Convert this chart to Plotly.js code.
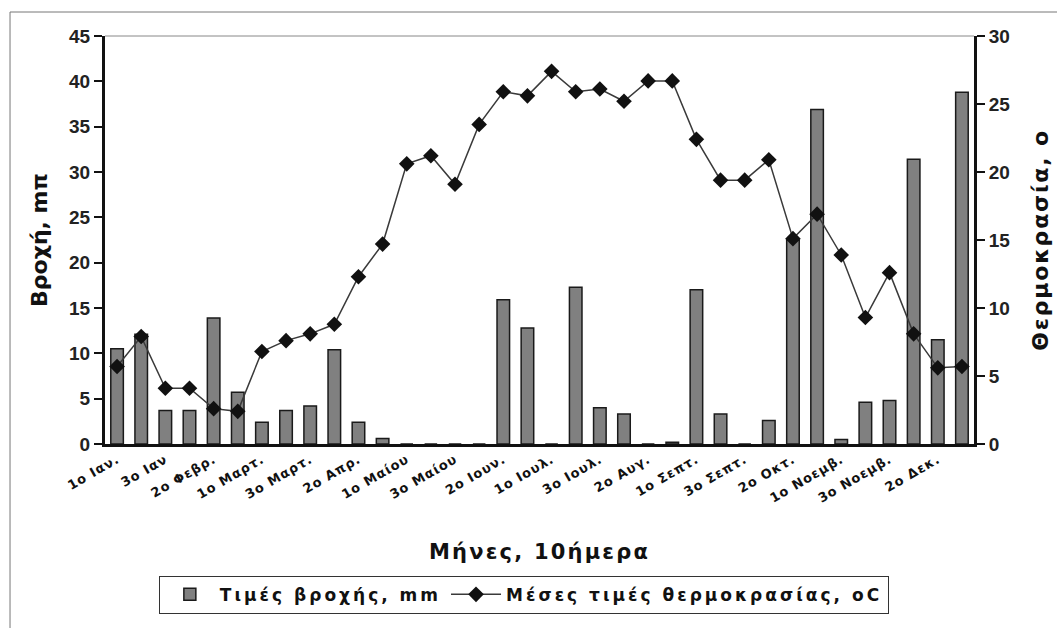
<!DOCTYPE html>
<html>
<head>
<meta charset="utf-8">
<script src="https://cdn.plot.ly/plotly-3.0.1.min.js"></script>
<style>
html,body{margin:0;padding:0;background:#fff;}
#chart{width:1057px;height:628px;}
.legendtext{letter-spacing:3px;}
.xtitle{letter-spacing:2.2px;}
.y2title{letter-spacing:1.8px;}
.xtick text{letter-spacing:1px;}
</style>
</head>
<body>
<div id="chart"></div>
<script>
// 36 ten-day periods (1ο, 2ο, 3ο 10ήμερο of each month)
const periods = [
  "1ο Ιαν.","2ο Ιαν.","3ο Ιαν","1ο Φεβρ.","2ο Φεβρ.","3ο Φεβρ.",
  "1ο Μαρτ.","2ο Μαρτ.","3ο Μαρτ.","1ο Απρ.","2ο Απρ.","3ο Απρ.",
  "1ο Μαίου","2ο Μαίου","3ο Μαίου","1ο Ιουν.","2ο Ιουν.","3ο Ιουν.",
  "1ο Ιουλ.","2ο Ιουλ.","3ο Ιουλ.","1ο Αυγ.","2ο Αυγ.","3ο Αυγ.",
  "1ο Σεπτ.","2ο Σεπτ.","3ο Σεπτ.","1ο Οκτ.","2ο Οκτ.","3ο Οκτ.",
  "1ο Νοεμβ.","2ο Νοεμβ.","3ο Νοεμβ.","1ο Δεκ.","2ο Δεκ.","3ο Δεκ."
];
// tick labels shown (every other period)
const tickLabels = [
  "1ο Ιαν.","3ο Ιαν","2ο Φεβρ.","1ο Μαρτ.","3ο Μαρτ.","2ο Απρ.",
  "1ο Μαίου","3ο Μαίου","2ο Ιουν.","1ο Ιουλ.","3ο Ιουλ.","2ο Αυγ.",
  "1ο Σεπτ.","3ο Σεπτ.","2ο Οκτ.","1ο Νοεμβ.","3ο Νοεμβ.","2ο Δεκ."
];
// rainfall, mm
const rain = [
  10.5, 12.1, 3.7, 3.7, 13.9, 5.7,
  2.4, 3.7, 4.2, 10.4, 2.4, 0.6,
  0, 0, 0, 0, 15.9, 12.8,
  0, 17.3, 4.0, 3.3, 0, 0.2,
  17.0, 3.3, 0, 2.6, 22.5, 36.9,
  0.5, 4.6, 4.8, 31.4, 11.5, 38.8
];
// mean temperature, oC
const temp = [
  5.7, 7.9, 4.1, 4.1, 2.6, 2.4,
  6.8, 7.6, 8.1, 8.8, 12.3, 14.7,
  20.6, 21.2, 19.1, 23.5, 25.9, 25.6,
  27.4, 25.9, 26.1, 25.2, 26.7, 26.7,
  22.4, 19.4, 19.4, 20.9, 15.1, 16.9,
  13.9, 9.3, 12.6, 8.1, 5.6, 5.7
];

const tickPeriods = periods.filter((p, i) => i % 2 === 0);

const FONT = "DejaVu Sans, sans-serif";
const NUMFONT = "Liberation Sans, Arial, sans-serif";

const traces = [
  {
    type: "bar",
    name: "Τιμές βροχής, mm",
    x: periods,
    y: rain,
    yaxis: "y",
    marker: { color: "#808080", line: { color: "#1a1a1a", width: 1.5 } },
    hoverinfo: "x+y"
  },
  {
    type: "scatter",
    mode: "lines+markers",
    name: "Μέσες τιμές θερμοκρασίας, oC",
    x: periods,
    y: temp,
    yaxis: "y2",
    line: { color: "#3a3a3a", width: 1.5 },
    marker: { symbol: "diamond", size: 12, color: "#111" }
  }
];

const layout = {
  width: 1057,
  height: 628,
  paper_bgcolor: "#ffffff",
  plot_bgcolor: "#ffffff",
  margin: { l: 105, r: 83, t: 36, b: 184, autoexpand: false },
  bargap: 0.48,
  showlegend: true,
  xaxis: {
    type: "category",
    categoryorder: "array",
    categoryarray: periods,
    range: [-0.5, 35.5],
    tickmode: "array",
    tickvals: tickPeriods,
    ticktext: tickLabels,
    tickangle: -30,
    ticks: "",
    showline: true,
    linecolor: "#111",
    linewidth: 3,
    showgrid: false,
    zeroline: false,
    tickfont: { family: FONT, size: 13, color: "#111", weight: "bold" },
    title: {
      text: "Μήνες, 10ήμερα",
      font: { family: FONT, size: 21, color: "#111", weight: "bold" },
      standoff: 40
    },
    fixedrange: true
  },
  yaxis: {
    range: [0, 45],
    tickvals: [0, 5, 10, 15, 20, 25, 30, 35, 40, 45],
    ticks: "outside",
    ticklen: 8,
    tickwidth: 2,
    tickcolor: "#111",
    showline: true,
    linecolor: "#111",
    linewidth: 3,
    showgrid: false,
    zeroline: false,
    tickfont: { family: NUMFONT, size: 19, color: "#222", weight: "bold" },
    title: {
      text: "Βροχή, mπ",
      font: { family: FONT, size: 22, color: "#111", weight: "bold" },
      standoff: 16
    },
    fixedrange: true
  },
  yaxis2: {
    overlaying: "y",
    side: "right",
    range: [0, 30],
    tickvals: [0, 5, 10, 15, 20, 25, 30],
    ticks: "outside",
    ticklen: 8,
    tickwidth: 2,
    tickcolor: "#111",
    showline: true,
    linecolor: "#111",
    linewidth: 3,
    showgrid: false,
    zeroline: false,
    tickfont: { family: NUMFONT, size: 19, color: "#222", weight: "bold" },
    title: {
      text: "Θερμοκρασία, ο",
      font: { family: FONT, size: 22, color: "#111", weight: "bold" },
      standoff: 24
    },
    fixedrange: true
  },
  legend: {
    orientation: "h",
    x: 0.482,
    xanchor: "center",
    y: -0.323,
    yanchor: "top",
    bordercolor: "#333",
    borderwidth: 1,
    bgcolor: "#fff",
    font: { family: FONT, size: 17, color: "#111", weight: "bold" },
    itemwidth: 50,
    traceorder: "normal"
  },
  shapes: [
    // outer frame of the figure
    { type: "rect", xref: "paper", yref: "paper", x0: -0.1093, x1: 1.12, y0: -0.5, y1: 1.0588,
      line: { color: "#777", width: 1 }, fillcolor: "rgba(0,0,0,0)", layer: "below" },
    // thin top border of plot area
    { type: "line", xref: "paper", yref: "paper", x0: 0, x1: 1, y0: 1, y1: 1,
      line: { color: "#888", width: 1 } }
  ]
};

Plotly.newPlot("chart", traces, layout, { displayModeBar: false, staticPlot: true });
</script>
</body>
</html>
